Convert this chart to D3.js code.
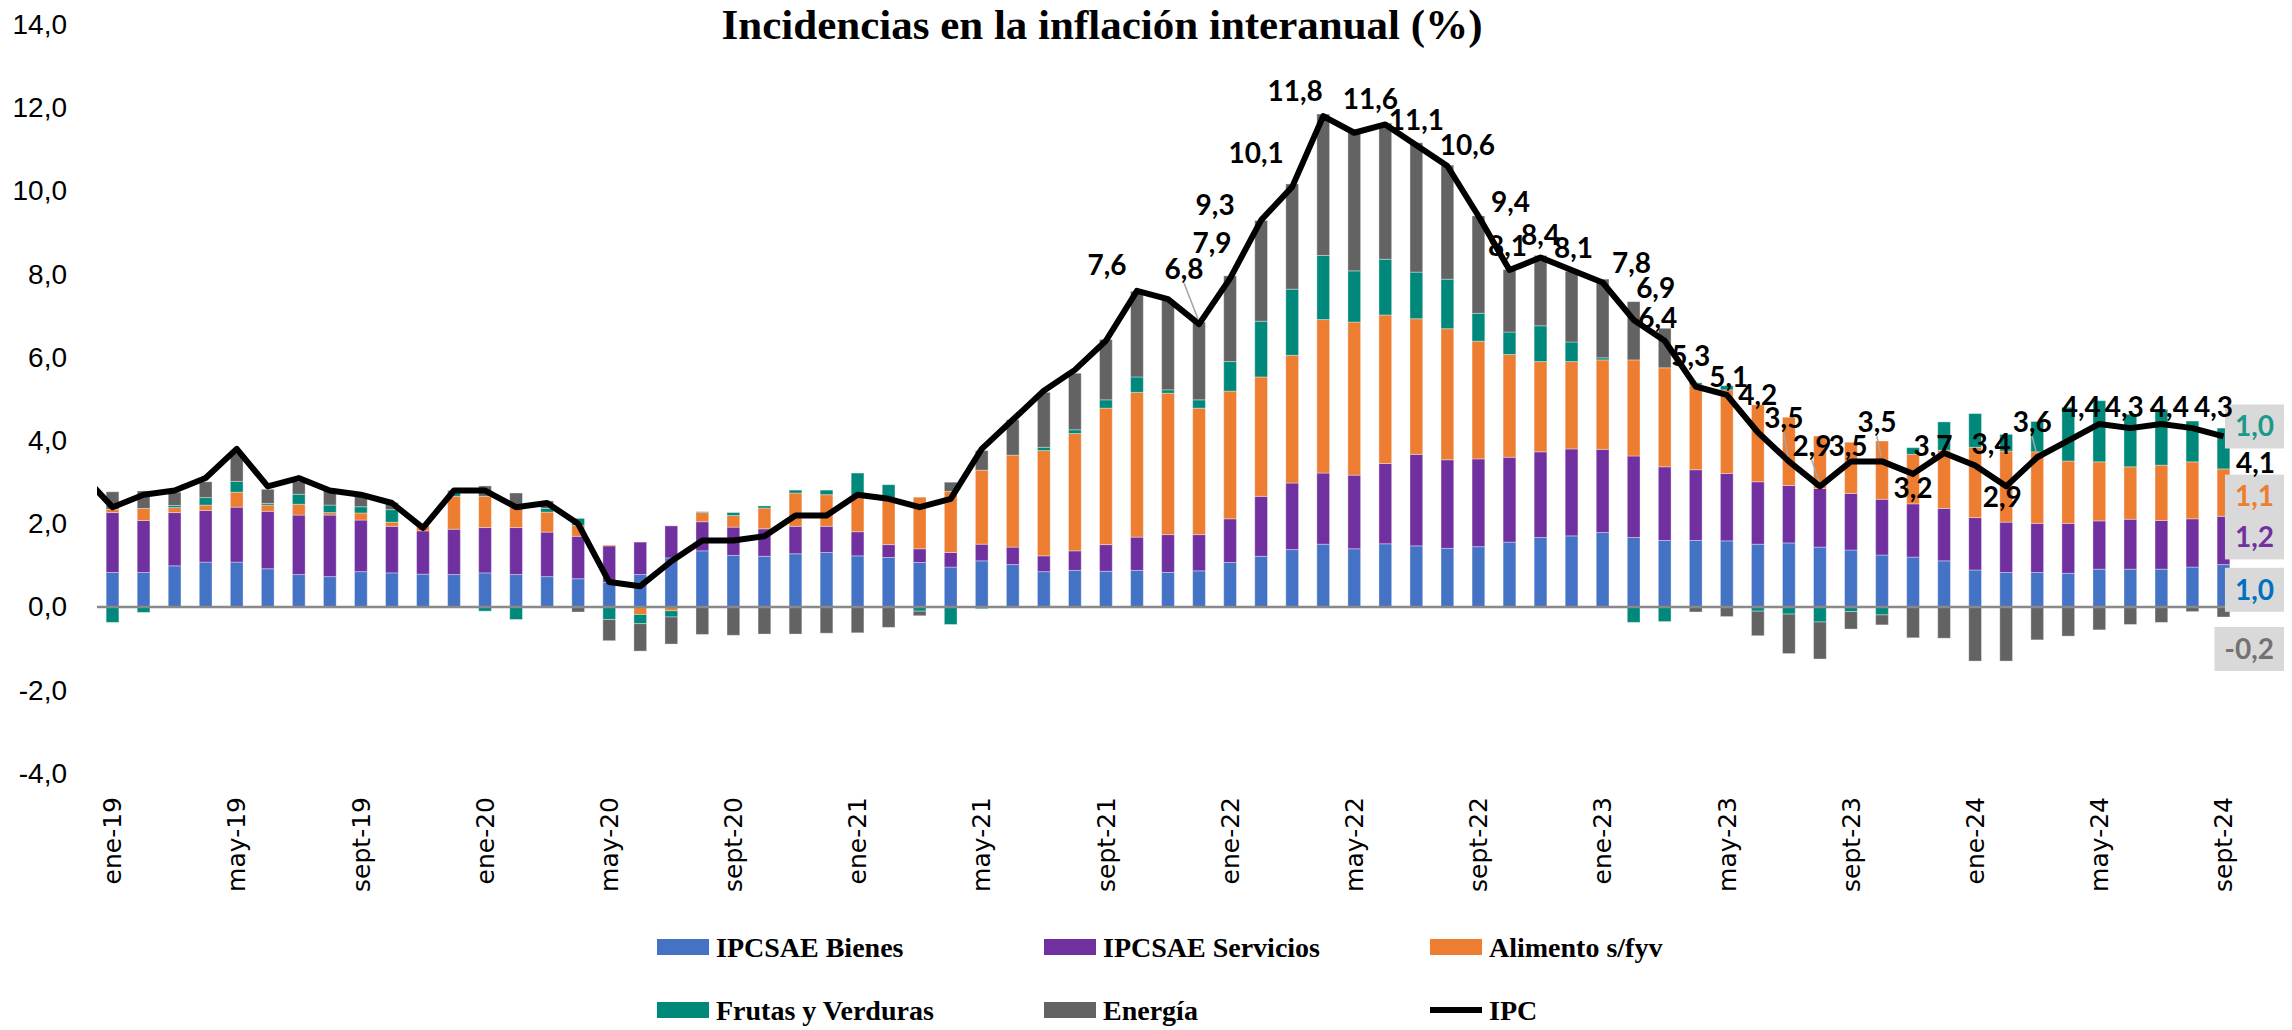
<!DOCTYPE html>
<html>
<head>
<meta charset="utf-8">
<script src="https://d3js.org/d3.v7.min.js"></script>
<style>
  body { margin: 0; background: #ffffff; }
  text.titulo { font: bold 43px "Liberation Serif", serif; }
  .eje-y text { font: 28px "Liberation Sans", sans-serif; fill: #000; }
  .eje-x text { font: 25px "DejaVu Sans", sans-serif; fill: #000; }
  text.etiqueta { font: bold 28px Lato, sans-serif; fill: #000; }
  text.leyenda { font: bold 28px "Liberation Serif", serif; fill: #000; }
</style>
</head>
<body>
<div id="chartContainer"></div>
<script>
// meses: ene-19 ... sept-24
var abrev = ["ene", "feb", "mar", "abr", "may", "jun", "jul", "ago", "sept", "oct", "nov", "dic"];
var anios = ["19", "20", "21", "22", "23", "24"];
var meses = [];
anios.forEach(function(a) {
    abrev.forEach(function(m) { meses.push(m + "-" + a); });
});
meses = meses.slice(0, 69);

// incidencias (puntos porcentuales)
var ipcsaeBienes = [
    0.83, 0.83, 0.99, 1.08, 1.08, 0.92, 0.78, 0.73, 0.85, 0.82, 0.79, 0.78,
    0.82, 0.78, 0.73, 0.68, 0.59, 0.78, 1.18, 1.35, 1.24, 1.22, 1.28, 1.31,
    1.23, 1.19, 1.07, 0.96, 1.11, 1.02, 0.85, 0.88, 0.86, 0.88, 0.83, 0.87,
    1.07, 1.22, 1.38, 1.51, 1.40, 1.52, 1.47, 1.41, 1.45, 1.56, 1.67, 1.71,
    1.79, 1.67, 1.60, 1.60, 1.59, 1.51, 1.54, 1.44, 1.37, 1.25, 1.20, 1.11,
    0.89, 0.83, 0.83, 0.81, 0.91, 0.91, 0.91, 0.96, 1.02];
var ipcsaeServicios = [
    1.44, 1.25, 1.28, 1.24, 1.32, 1.38, 1.43, 1.48, 1.24, 1.12, 1.04, 1.09,
    1.09, 1.13, 1.07, 1.02, 0.88, 0.78, 0.77, 0.70, 0.68, 0.66, 0.66, 0.63,
    0.58, 0.31, 0.33, 0.35, 0.40, 0.42, 0.38, 0.47, 0.64, 0.80, 0.91, 0.87,
    1.05, 1.44, 1.60, 1.71, 1.77, 1.93, 2.20, 2.13, 2.11, 2.04, 2.06, 2.09,
    2.00, 1.96, 1.77, 1.70, 1.62, 1.50, 1.38, 1.41, 1.36, 1.34, 1.28, 1.26,
    1.26, 1.21, 1.18, 1.20, 1.16, 1.20, 1.17, 1.16, 1.16];
var alimentoSfyv = [
    0.08, 0.29, 0.12, 0.13, 0.36, 0.15, 0.26, 0.06, 0.17, 0.10, 0.13, 0.79,
    0.75, 0.49, 0.48, 0.26, 0.02, -0.18, -0.09, 0.22, 0.28, 0.50, 0.80, 0.76,
    0.87, 1.10, 1.24, 1.47, 1.78, 2.21, 2.53, 2.82, 3.28, 3.48, 3.40, 3.04,
    3.07, 2.87, 3.07, 3.69, 3.68, 3.57, 3.26, 3.15, 2.83, 2.47, 2.17, 2.10,
    2.15, 2.31, 2.38, 2.04, 2.01, 1.85, 1.64, 1.26, 1.23, 1.40, 1.19, 1.40,
    1.69, 1.71, 1.72, 1.50, 1.42, 1.26, 1.33, 1.37, 1.14];
var frutasVerduras = [
    -0.37, -0.13, 0.05, 0.18, 0.26, 0.04, 0.24, 0.18, 0.15, 0.30, 0.00, 0.09,
    -0.10, -0.30, 0.09, 0.17, -0.30, -0.22, -0.15, 0.02, 0.07, 0.05, 0.07, 0.11,
    0.54, 0.34, -0.10, -0.42, -0.04, -0.02, 0.08, 0.09, 0.20, 0.37, 0.08, 0.20,
    0.71, 1.34, 1.59, 1.54, 1.23, 1.34, 1.12, 1.19, 0.67, 0.54, 0.86, 0.47,
    0.05, -0.37, -0.35, 0.05, 0.10, -0.10, -0.17, -0.36, -0.11, -0.19, 0.16, 0.68,
    0.81, 0.40, 0.73, 1.29, 1.47, 1.26, 1.34, 0.98, 0.98];
var energia = [
    0.42, 0.42, 0.32, 0.38, 0.68, 0.34, 0.31, 0.36, 0.27, 0.17, 0.00, 0.05,
    0.25, 0.34, 0.18, -0.12, -0.51, -0.66, -0.65, -0.66, -0.68, -0.65, -0.65, -0.63,
    -0.62, -0.49, -0.11, 0.22, 0.47, 0.85, 1.32, 1.36, 1.45, 2.06, 2.16, 1.87,
    2.06, 2.42, 2.53, 3.40, 3.32, 3.27, 3.11, 2.74, 2.34, 1.50, 1.69, 1.70,
    1.89, 1.40, 0.95, -0.12, -0.23, -0.59, -0.95, -0.89, -0.42, -0.24, -0.74, -0.75,
    -1.30, -1.30, -0.79, -0.70, -0.55, -0.42, -0.37, -0.11, -0.24];

// IPC interanual (%), con el dato de dic-18 que queda cortado a la izquierda
var ipcPrevio = 3.2;
var ipc = [
    2.4, 2.7, 2.8, 3.1, 3.8, 2.9, 3.1, 2.8, 2.7, 2.5, 1.9, 2.8,
    2.8, 2.4, 2.5, 2.0, 0.6, 0.5, 1.1, 1.6, 1.6, 1.7, 2.2, 2.2,
    2.7, 2.6, 2.4, 2.6, 3.8, 4.5, 5.2, 5.7, 6.4, 7.6, 7.4, 6.8,
    7.9, 9.3, 10.1, 11.8, 11.4, 11.6, 11.1, 10.6, 9.4, 8.1, 8.4, 8.1,
    7.8, 6.9, 6.4, 5.3, 5.1, 4.2, 3.5, 2.9, 3.5, 3.5, 3.2, 3.7,
    3.4, 2.9, 3.6, 4.0, 4.4, 4.3, 4.4, 4.3, 4.1];

var series = [
    {clave: "bienes", nombre: "IPCSAE Bienes", valores: ipcsaeBienes},
    {clave: "servicios", nombre: "IPCSAE Servicios", valores: ipcsaeServicios},
    {clave: "alimento", nombre: "Alimento s/fyv", valores: alimentoSfyv},
    {clave: "fyv", nombre: "Frutas y Verduras", valores: frutasVerduras},
    {clave: "energia", nombre: "Energía", valores: energia}
];
var colores = {bienes: "#4472c4", servicios: "#7030a0", alimento: "#ed7d31", fyv: "#00897b", energia: "#636363"};
var coloresTexto = {bienes: "#0070c0", servicios: "#7030a0", alimento: "#ed7d31", fyv: "#1a9a8a", energia: "#767171"};

// ubicacion manual de las etiquetas del IPC: [dx, dy] respecto al punto
var posEtiquetas = {
    33: [-30, -26], 35: [-15, -55], 36: [-18, -35], 37: [-46, -15], 38: [-36, -34],
    39: [-28, -25], 41: [-15, -25], 42: [0, -25], 43: [20, -21], 44: [32, -14],
    45: [-2, -24], 46: [0, -22], 47: [2, -22], 48: [29, -19], 49: [22, -32],
    50: [-7, -23], 51: [-5, -30], 52: [2, -18], 53: [0, -37], 54: [-5, -43],
    55: [-8, -40], 56: [-3, -15], 57: [-5, -39], 58: [0, 14], 59: [-11, -7],
    60: [16, -21], 61: [-4, 11], 62: [-5, -35], 64: [-18, -17], 65: [-6, -21],
    66: [8, -17], 67: [21, -21], 68: [32, 27]
};
var conGuia = [35, 54, 55, 57, 62];
// etiquetas del ultimo mes, dy respecto al centro del segmento
var posFinal = {fyv: -22, alimento: 4, servicios: -3, bienes: 4, energia: 37};

var W = 2292, H = 1030;
var izq = 97, der = 2239;

var locale = d3.formatLocale({decimal: ",", thousands: ".", grouping: [3], currency: ["", ""], minus: "-"});
var fmt = locale.format(".1f");

var svg = d3.select("#chartContainer").append("svg")
    .attr("width", W).attr("height", H)
    .style("display", "block");

var x = d3.scaleBand().domain(meses).range([izq, der])
    .paddingInner(0.59).paddingOuter(0.295);
var y = d3.scaleLinear().domain([-4, 14]).range([773.4, 24.6]);

var tabla = meses.map(function(m, i) {
    var fila = {mes: m};
    series.forEach(function(s) { fila[s.clave] = s.valores[i]; });
    return fila;
});
var apilado = d3.stack()
    .keys(series.map(function(s) { return s.clave; }))
    .offset(d3.stackOffsetDiverging)(tabla);

// titulo
svg.append("text").attr("class", "titulo")
    .attr("x", 1102).attr("y", 39)
    .attr("text-anchor", "middle")
    .text("Incidencias en la inflación interanual (%)");

// eje y
var ejeY = svg.append("g").attr("class", "eje-y")
    .attr("transform", "translate(67,0)")
    .call(d3.axisLeft(y).tickValues(d3.range(-4, 15, 2)).tickSize(0).tickPadding(0).tickFormat(fmt));
ejeY.select(".domain").remove();

// barras apiladas
svg.append("g").selectAll("g")
    .data(apilado)
    .enter().append("g")
    .attr("fill", function(d) { return colores[d.key]; })
    .selectAll("rect")
    .data(function(d) { return d; })
    .enter().append("rect")
    .attr("x", function(d) { return x(d.data.mes); })
    .attr("width", x.bandwidth())
    .attr("y", function(d) { return y(d[1]); })
    .attr("height", function(d) { return Math.max(0, y(d[0]) - y(d[1])); })
    .attr("stroke", "#ffffff")
    .attr("stroke-opacity", 0.35)
    .attr("stroke-width", 1);

// linea del cero
svg.append("line")
    .attr("x1", izq).attr("x2", der)
    .attr("y1", y(0)).attr("y2", y(0))
    .attr("stroke", "#898989").attr("stroke-width", 2.5);

// eje x, una etiqueta cada 4 meses
var ejeX = svg.append("g").attr("class", "eje-x")
    .attr("transform", "translate(0,797)")
    .call(d3.axisBottom(x).tickValues(meses.filter(function(d, i) { return i % 4 === 0; })).tickSize(0));
ejeX.select(".domain").remove();
ejeX.selectAll("text")
    .attr("x", 0).attr("y", 0).attr("dy", "0.35em")
    .attr("transform", "rotate(-90)")
    .style("text-anchor", "end");

// linea del IPC
var centro = function(i) { return x(meses[i]) + x.bandwidth() / 2; };
var puntos = [{cx: centro(0) - x.step(), v: ipcPrevio}].concat(
    ipc.map(function(v, i) { return {cx: centro(i), v: v}; }));

svg.append("clipPath").attr("id", "recorte")
    .append("rect").attr("x", izq).attr("y", 0).attr("width", der - izq).attr("height", H);

svg.append("path")
    .datum(puntos)
    .attr("clip-path", "url(#recorte)")
    .attr("fill", "none")
    .attr("stroke", "#000")
    .attr("stroke-width", 6)
    .attr("stroke-linejoin", "round")
    .attr("d", d3.line().x(function(d) { return d.cx; }).y(function(d) { return y(d.v); }));

// etiquetas de cada componente en el ultimo mes (van debajo de las del IPC)
var ultimo = meses.length - 1;
var gFinal = svg.append("g");
apilado.forEach(function(s) {
    var d = s[ultimo];
    var cy = y((d[0] + d[1]) / 2) + posFinal[s.key];
    var g = gFinal.append("g");
    var t = g.append("text").attr("class", "etiqueta")
        .attr("y", cy).attr("dy", "0.35em")
        .attr("text-anchor", "middle")
        .style("fill", coloresTexto[s.key])
        .text(fmt(d.data[s.key]));
    var w = t.node().getComputedTextLength() + 20;
    t.attr("x", 2284 - w / 2);
    g.insert("rect", "text")
        .attr("x", 2284 - w).attr("y", cy - 22)
        .attr("width", w).attr("height", 44)
        .attr("fill", "#d9d9d9");
});

// etiquetas del IPC
var indices = Object.keys(posEtiquetas).map(Number);
var gEtiq = svg.append("g");
indices.forEach(function(i) {
    var px = centro(i), py = y(ipc[i]);
    var lx = px + posEtiquetas[i][0], ly = py + posEtiquetas[i][1];
    if (conGuia.indexOf(i) >= 0) {
        gEtiq.append("line")
            .attr("x1", lx).attr("y1", ly + 14)
            .attr("x2", px - 1).attr("y2", py - 5)
            .attr("stroke", "#a6a6a6").attr("stroke-width", 1.5);
    }
    gEtiq.append("text").attr("class", "etiqueta")
        .attr("x", lx).attr("y", ly).attr("dy", "0.35em")
        .attr("text-anchor", "middle")
        .text(fmt(ipc[i]));
});

// leyenda
var leyenda = series.map(function(s) { return {nombre: s.nombre, color: colores[s.clave], tipo: "barra"}; })
    .concat([{nombre: "IPC", color: "#000", tipo: "linea"}]);
var colX = [657, 1044, 1430], filaY = [947, 1010];
var gLey = svg.append("g");
leyenda.forEach(function(d, i) {
    var lx = colX[i % 3], ly = filaY[Math.floor(i / 3)];
    if (d.tipo === "barra") {
        gLey.append("rect").attr("x", lx).attr("y", ly - 8)
            .attr("width", 52).attr("height", 16).attr("fill", d.color);
    } else {
        gLey.append("line").attr("x1", lx).attr("x2", lx + 52)
            .attr("y1", ly).attr("y2", ly)
            .attr("stroke", d.color).attr("stroke-width", 6);
    }
    gLey.append("text").attr("class", "leyenda")
        .attr("x", lx + 59).attr("y", ly).attr("dy", "0.35em")
        .text(d.nombre);
});
</script>
</body>
</html>
